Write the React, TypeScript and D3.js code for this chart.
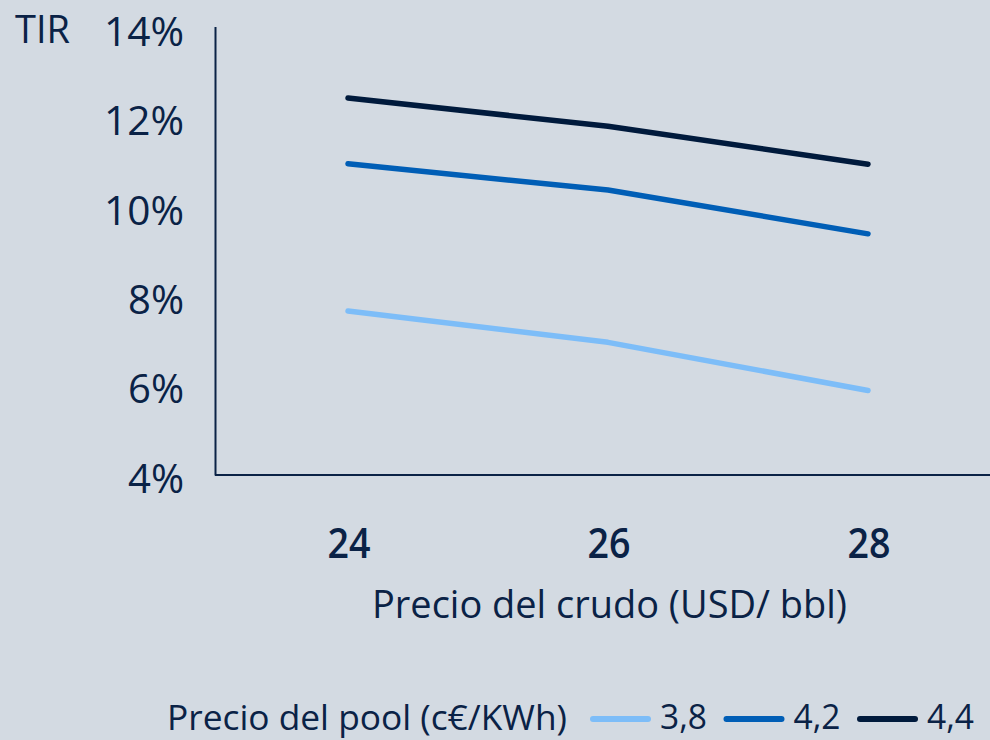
import React from "react";
import * as d3 from "d3";

const categories = ["24", "26", "28"];
const seriesNames = ["3,8", "4,2", "4,4"];
const values38 = [7.66, 6.96, 5.88];
const values42 = [10.96, 10.37, 9.39];
const values44 = [12.43, 11.8, 10.95];
const yTicks = [4, 6, 8, 10, 12, 14];
const yTitle = "TIR";
const xTitle = "Precio del crudo (USD/ bbl)";
const legendTitle = "Precio del pool (c€/KWh)";

const colors = ["#7dbdf8", "#005eb6", "#001a3c"];
const TEXT = "#0a2246";
const BG = "#d3dae2";
const FONT = "'Open Sans', 'Liberation Sans', sans-serif";

export default function App() {
  const width = 990;
  const height = 740;
  const x = d3.scalePoint<string>().domain(categories).range([348, 868]);
  const y = d3.scaleLinear().domain([4, 14]).range([474.5, 28]);
  const allSeries = [values38, values42, values44];
  const line = d3
    .line<number>()
    .x((_, i) => x(categories[i]) as number)
    .y((d) => y(d));

  return (
    <svg
      width={width}
      height={height}
      style={{ position: "absolute", left: 0, top: 0, display: "block" }}
      fontFamily={FONT}
    >
      <rect width={width} height={height} fill={BG} />
      {/* axes */}
      <line x1={215.5} x2={215.5} y1={27} y2={475.5} stroke={TEXT} strokeWidth={2} />
      <line x1={215} x2={990} y1={475} y2={475} stroke={TEXT} strokeWidth={2} />
      {/* y ticks */}
      {yTicks.map((t) => (
        <text
          key={t}
          x={184}
          y={y(t) + 18}
          textAnchor="end"
          fontSize={40}
          fill={TEXT}
          textLength={t >= 10 ? 80 : 56}
          lengthAdjust="spacingAndGlyphs"
        >
          {t}%
        </text>
      ))}
      <text x={15} y={43} fontSize={38} fill={TEXT} textLength={55} lengthAdjust="spacingAndGlyphs">
        {yTitle}
      </text>
      {/* x ticks */}
      {categories.map((c) => (
        <text
          key={c}
          x={(x(c) as number) + 1}
          y={558}
          textAnchor="middle"
          fontSize={41}
          fontWeight={600}
          fill={TEXT}
          textLength={43}
          lengthAdjust="spacingAndGlyphs"
        >
          {c}
        </text>
      ))}
      <text x={372} y={618} fontSize={39} fill={TEXT} textLength={475} lengthAdjust="spacingAndGlyphs">
        {xTitle}
      </text>
      {/* series lines */}
      {allSeries.map((s, i) => (
        <path
          key={i}
          d={line(s) || ""}
          fill="none"
          stroke={colors[i]}
          strokeWidth={5.5}
          strokeLinecap="round"
          strokeLinejoin="round"
        />
      ))}
      {/* legend */}
      <text x={167} y={730} fontSize={35} fill={TEXT} textLength={400} lengthAdjust="spacingAndGlyphs">
        {legendTitle}
      </text>
      {seriesNames.map((n, i) => {
        const sx = 590 + i * 133.5;
        return (
          <g key={n}>
            <line x1={sx + 3} x2={sx + 58} y1={719} y2={719} stroke={colors[i]} strokeWidth={6} strokeLinecap="round" />
            <text x={sx + 70} y={729} fontSize={34} fill={TEXT} textLength={47} lengthAdjust="spacingAndGlyphs">
              {n}
            </text>
          </g>
        );
      })}
    </svg>
  );
}
